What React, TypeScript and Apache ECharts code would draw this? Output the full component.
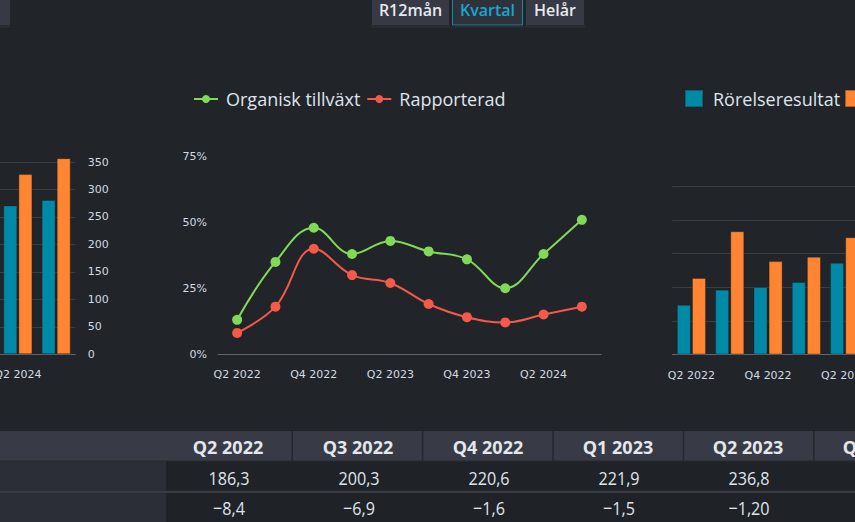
import React, { useEffect, useRef } from 'react';
import * as echarts from 'echarts';

// ---------- data ----------
const growthQuarters = ['Q2 2022', 'Q3 2022', 'Q4 2022', 'Q1 2023', 'Q2 2023', 'Q3 2023', 'Q4 2023', 'Q1 2024', 'Q2 2024', 'Q3 2024'];
const organicGrowth = [13, 35, 48, 38, 43, 39, 36, 25, 38, 51];
const reportedGrowth = [8, 18, 40, 30, 27, 19, 14, 12, 15, 18];
const growthTicks = { min: 0, max: 75, interval: 25 };

const salesQuarters = ['Q2 2024', 'Q3 2024'];
const netSales = [271, 281];
const orderIntake = [328, 357];
const salesTicks = { min: 0, max: 350, interval: 50 };

const profitQuarters = ['Q2 2022', 'Q3 2022', 'Q4 2022', 'Q1 2023', 'Q2 2023'];
const operatingProfit = [14.8, 19.3, 20.1, 21.6, 27.3];
const ebitda = [22.8, 36.7, 27.8, 29.1, 34.9];
const profitTicks = { min: 0, max: 50, interval: 10 };

const periodButtons = ['R12mån', 'Kvartal', 'Helår'];
const activePeriod = 'Kvartal';

const tableQuarters = ['Q2 2022', 'Q3 2022', 'Q4 2022', 'Q1 2023', 'Q2 2023', 'Q3 2023'];
const tableRow1 = ['186,3', '200,3', '220,6', '221,9', '236,8'];
const tableRow2 = ['\u22128,4', '\u22126,9', '\u22121,6', '\u22121,5', '\u22121,20'];

// ---------- style ----------
const OX = 20;
const BG = '#212428';
const TEAL = '#008aa8';
const ORANGE = '#ff8533';
const GREEN = '#80d957';
const RED = '#f4594a';
const LABEL = '#d3dbe3';
const TEXT = '#dfe5ec';
const GRIDLINE = '#3a3d42';
const AXISLINE = '#62656d';
const AXIS_FONT = 'DejaVu Sans';
const UI_FONT = '"Open Sans", "Noto Sans", sans-serif';

const catAxis = (gridIndex: number, data: string[]) => ({
  type: 'category',
  gridIndex,
  data,
  axisTick: { show: false },
  axisLine: { show: true, lineStyle: { color: AXISLINE, width: 1 } },
  axisLabel: { interval: 1, margin: 15, color: LABEL, fontFamily: AXIS_FONT, fontSize: 11 },
});

function buildGraphics() {
  const g: any[] = [];
  // left partial button
  g.push({ type: 'rect', shape: { x: 0, y: -10, width: 10 + OX, height: 35 }, style: { fill: '#373a45' } });
  g.push({ type: 'rect', shape: { x: 0, y: 25.5, width: 10 + OX, height: 2 }, style: { fill: '#2c2f36' } });
  const btnX = [372, 452.5, 526];
  const btnW = [77, 70, 58];
  periodButtons.forEach((b, i) => {
    const active = b === activePeriod;
    g.push({
      type: 'rect',
      shape: { x: btnX[i] + OX, y: -10, width: btnW[i], height: 35 },
      style: { fill: active ? '#2f323b' : '#373a45', stroke: active ? '#0f8aa8' : null, lineWidth: 1 },
    });
    g.push({ type: 'rect', shape: { x: btnX[i] + OX - 1, y: 25.5, width: btnW[i] + 2, height: 2 }, style: { fill: '#2c2f36' } });
    g.push({
      type: 'text',
      x: btnX[i] + OX + btnW[i] / 2,
      y: 10,
      style: {
        text: b,
        fill: active ? '#1aa6cc' : '#e6e9ee',
        font: `600 16px ${UI_FONT}`,
        textAlign: 'center',
        textVerticalAlign: 'middle',
      },
    });
  });

  // table
  const W = 855 + OX + 40;
  g.push({ type: 'rect', shape: { x: 0, y: 431, width: W, height: 29.7 }, style: { fill: '#383b46' } });
  g.push({ type: 'rect', shape: { x: 0, y: 460.7, width: W, height: 1 }, style: { fill: '#2a2c31' } });
  g.push({ type: 'rect', shape: { x: 0, y: 461.7, width: 166 + OX, height: 29 }, style: { fill: '#2b2e36' } });
  g.push({ type: 'rect', shape: { x: 166 + OX, y: 461.7, width: W, height: 29 }, style: { fill: '#1f2226' } });
  g.push({ type: 'rect', shape: { x: 0, y: 490.7, width: W, height: 2.6 }, style: { fill: '#393b42' } });
  g.push({ type: 'rect', shape: { x: 0, y: 493.3, width: 166 + OX, height: 30 }, style: { fill: '#2b2e36' } });
  g.push({ type: 'rect', shape: { x: 166 + OX, y: 493.3, width: W, height: 30 }, style: { fill: '#1f2226' } });
  tableQuarters.forEach((q, i) => {
    const cx = 228 + 130 * i + OX;
    if (i < tableQuarters.length - 1) {
      g.push({ type: 'rect', shape: { x: 291.5 + 130.4 * i + OX, y: 431, width: 1.5, height: 29.7 }, style: { fill: '#25272c' } });
    }
    g.push({
      type: 'text', x: cx, y: 446.5,
      style: { text: q, fill: '#e4e7ec', font: `bold 18px ${UI_FONT}`, textAlign: 'center', textVerticalAlign: 'middle' },
    });
    if (i < tableRow1.length) {
      g.push({
        type: 'text', x: cx + 1, y: 477, scaleX: 0.85,
        style: { text: tableRow1[i], fill: TEXT, font: `19px ${UI_FONT}`, textAlign: 'center', textVerticalAlign: 'middle' },
      });
      g.push({
        type: 'text', x: cx + 1, y: 507, scaleX: 0.85,
        style: { text: tableRow2[i], fill: TEXT, font: `19px ${UI_FONT}`, textAlign: 'center', textVerticalAlign: 'middle' },
      });
    }
  });
  return g;
}

export default function App() {
  const ref = useRef<HTMLDivElement>(null);
  useEffect(() => {
    const chart = echarts.init(ref.current!, null, { renderer: 'svg' });
    const barBorder = { borderWidth: 1, borderColor: 'rgba(30,30,30,0.35)' };
    chart.setOption({
      animation: false,
      backgroundColor: BG,
      legend: [
        {
          left: 208, top: 85, width: 500, itemWidth: 24, itemHeight: 10, itemGap: 6,
          data: ['Organisk tillväxt', 'Rapporterad'],
          textStyle: { color: TEXT, fontSize: 18, fontFamily: UI_FONT, padding: [0, 0, 0, 3] },
        },
        {
          left: 699, top: 84, width: 600, itemWidth: 18, itemHeight: 17, itemGap: 4, icon: 'rect',
          data: ['Rörelseresultat', 'EBITDA'],
          textStyle: { color: TEXT, fontSize: 18, fontFamily: UI_FONT, padding: [0, 0, 0, 5] },
        },
      ],
      grid: [
        { left: OX - 1.3, top: 162, width: 76.6, height: 192.3 },
        { left: 218 + OX, top: 156.7, width: 383, height: 197.3 },
        { left: 672.3 + OX, top: 186.5, width: 191.5, height: 168 },
      ],
      xAxis: [catAxis(0, salesQuarters), catAxis(1, growthQuarters), catAxis(2, profitQuarters)],
      yAxis: [
        {
          type: 'value', gridIndex: 0, position: 'right', ...salesTicks,
          axisLine: { show: false }, axisTick: { show: false },
          splitLine: { lineStyle: { color: GRIDLINE, width: 1 } },
          axisLabel: { margin: 12.5, color: LABEL, fontFamily: AXIS_FONT, fontSize: 11 },
        },
        {
          type: 'value', gridIndex: 1, ...growthTicks,
          axisLine: { show: false }, axisTick: { show: false }, splitLine: { show: false },
          axisLabel: { margin: 11, formatter: '{value}%', color: LABEL, fontFamily: AXIS_FONT, fontSize: 11 },
        },
        {
          type: 'value', gridIndex: 2, position: 'right', ...profitTicks,
          axisLine: { show: false }, axisTick: { show: false },
          splitLine: { lineStyle: { color: GRIDLINE, width: 1 } },
          axisLabel: { show: false },
        },
      ],
      series: [
        { type: 'bar', name: 'Nettoomsättning', xAxisIndex: 0, yAxisIndex: 0, data: netSales, barWidth: 14, barGap: '8%', clip: false, itemStyle: { color: TEAL, ...barBorder } },
        { type: 'bar', name: 'Orderingång', xAxisIndex: 0, yAxisIndex: 0, data: orderIntake, barWidth: 14, barGap: '8%', clip: false, itemStyle: { color: ORANGE, ...barBorder } },
        {
          type: 'line', name: 'Organisk tillväxt', xAxisIndex: 1, yAxisIndex: 1, data: organicGrowth,
          smooth: 0.4, symbol: 'circle', symbolSize: 10, lineStyle: { width: 2, color: GREEN }, itemStyle: { color: GREEN },
        },
        {
          type: 'line', name: 'Rapporterad', xAxisIndex: 1, yAxisIndex: 1, data: reportedGrowth,
          smooth: 0.4, symbol: 'circle', symbolSize: 10, lineStyle: { width: 2, color: RED }, itemStyle: { color: RED },
        },
        { type: 'bar', name: 'Rörelseresultat', xAxisIndex: 2, yAxisIndex: 2, data: operatingProfit, barWidth: 14, barGap: '8%', itemStyle: { color: TEAL, ...barBorder } },
        { type: 'bar', name: 'EBITDA', xAxisIndex: 2, yAxisIndex: 2, data: ebitda, barWidth: 14, barGap: '8%', itemStyle: { color: ORANGE, ...barBorder } },
      ],
      graphic: buildGraphics(),
    });
    return () => chart.dispose();
  }, []);
  return (
    <div style={{ position: 'fixed', left: 0, top: 0, width: 855, height: 522, overflow: 'hidden', background: BG }}>
      <div ref={ref} style={{ position: 'absolute', left: -OX, top: 0, width: 855 + OX + 40, height: 522 }} />
    </div>
  );
}
